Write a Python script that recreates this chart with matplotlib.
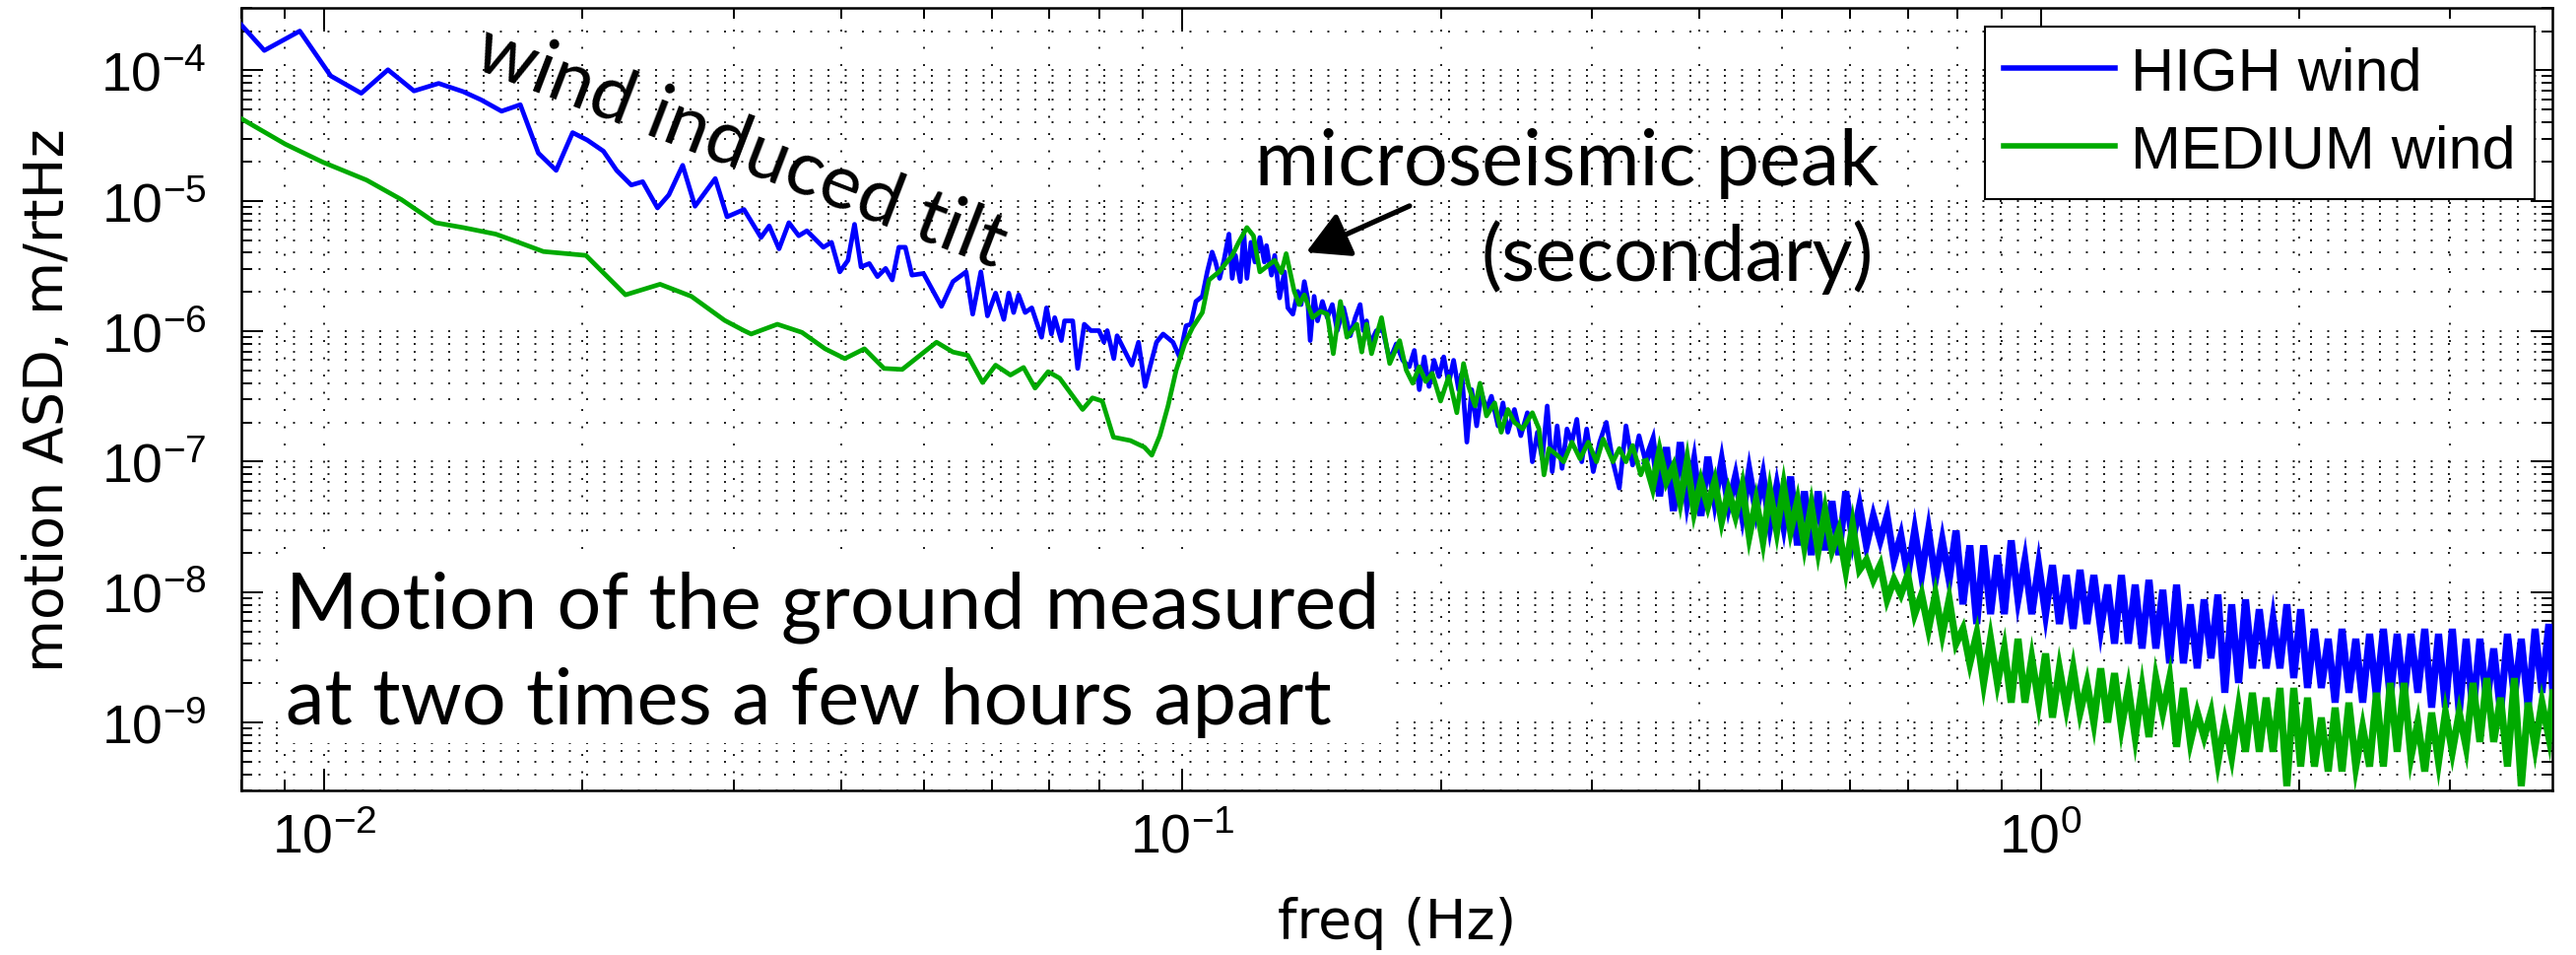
import matplotlib
matplotlib.use('Agg')
import matplotlib.pyplot as plt
from matplotlib.patches import Rectangle
from matplotlib.ticker import LogLocator, NullFormatter

# ---- HIGH wind, coarse part of the spectrum (Hz, m/rtHz) ----
f_high_lf = [0.008, 0.00852, 0.00937, 0.01018, 0.01105, 0.01187, 0.01273, 0.0136, 0.01452, 0.01524,
             0.0161, 0.01693, 0.01777, 0.01864, 0.01948, 0.02026, 0.02116, 0.02192, 0.0228, 0.02351,
             0.02446, 0.02522, 0.02617, 0.02705, 0.02856, 0.02948, 0.03085,
             0.03229, 0.03301, 0.03389, 0.0348, 0.03573, 0.03652, 0.03817, 0.03901, 0.03989, 0.04077,
             0.0415, 0.04223, 0.04318, 0.04413, 0.04511, 0.04592, 0.04674, 0.04756, 0.04841, 0.04993,
             0.0524, 0.05404, 0.05598, 0.05698, 0.05824, 0.05928, 0.06059, 0.06194, 0.06276, 0.06359,
             0.06444, 0.06559, 0.06676, 0.06855, 0.06946, 0.07038, 0.071, 0.07227, 0.0729, 0.07451,
             0.07551, 0.07686, 0.07823, 0.07996, 0.08103, 0.08174, 0.0832, 0.08393, 0.08733, 0.08889,
             0.09048, 0.09168, 0.09329, 0.09496, 0.09751, 0.09925, 0.101, 0.1023, 0.1037, 0.1055,
             0.1069, 0.1083, 0.1093, 0.1105, 0.1118, 0.1133, 0.1143, 0.1153, 0.1168, 0.1179,
             0.1189, 0.1202, 0.1215, 0.1231, 0.1246, 0.1253, 0.127, 0.1281, 0.1298, 0.1315,
             0.1327, 0.1345, 0.1363, 0.1375, 0.1387, 0.1399, 0.1409, 0.1424, 0.1437, 0.1456,
             0.1475, 0.1495, 0.1515, 0.1541, 0.1569, 0.159, 0.1611, 0.1625, 0.1639, 0.1654,
             0.1683, 0.1713, 0.1744, 0.1775, 0.1806, 0.1838, 0.1863, 0.1888, 0.1913, 0.1938,
             0.1964, 0.199, 0.2016, 0.2043, 0.207, 0.2098, 0.2116, 0.2145, 0.2173, 0.2202,
             0.2231, 0.2261, 0.2291, 0.2332, 0.2363, 0.2394, 0.2437, 0.2479, 0.2523, 0.2557,
             0.2592, 0.2626, 0.2661, 0.2697, 0.2733, 0.2769, 0.2806, 0.2843, 0.2881, 0.2919,
             0.2958, 0.3011, 0.3063, 0.3118, 0.3174, 0.3229, 0.3287, 0.3346, 0.3404, 0.3465]
asd_high_lf = [2.25e-4, 1.42e-4, 2.0e-4, 9.07e-5, 6.67e-5, 1.01e-4, 6.95e-5, 7.94e-5, 6.87e-5, 5.94e-5,
               4.86e-5, 5.45e-5, 2.32e-5, 1.71e-5, 3.33e-5, 2.92e-5, 2.40e-5, 1.71e-5, 1.32e-5, 1.40e-5,
               8.81e-6, 1.11e-5, 1.87e-5, 9.08e-6, 1.48e-5, 7.53e-6, 8.57e-6,
               5.23e-6, 6.41e-6, 4.28e-6, 6.79e-6, 5.39e-6, 5.88e-6, 4.40e-6, 4.80e-6, 2.85e-6, 3.49e-6,
               6.60e-6, 3.11e-6, 3.30e-6, 2.62e-6, 3.03e-6, 2.47e-6, 4.40e-6, 4.40e-6, 2.69e-6, 2.77e-6,
               1.55e-6, 2.40e-6, 2.85e-6, 1.35e-6, 2.85e-6, 1.31e-6, 1.96e-6, 1.23e-6, 1.96e-6, 1.39e-6,
               1.90e-6, 1.39e-6, 1.51e-6, 8.98e-7, 1.51e-6, 9.51e-7, 1.27e-6, 8.47e-7, 1.20e-6, 1.20e-6,
               5.18e-7, 1.13e-6, 1.01e-6, 1.01e-6, 8.23e-7, 1.01e-6, 6.16e-7, 9.23e-7, 5.49e-7, 8.23e-7,
               3.77e-7, 5.34e-7, 8.23e-7, 9.51e-7, 8.23e-7, 6.35e-7, 1.10e-6, 1.13e-6, 1.69e-6, 1.85e-6,
               2.85e-6, 4.04e-6, 3.39e-6, 2.54e-6, 3.49e-6, 5.55e-6, 2.54e-6, 3.81e-6, 2.40e-6, 5.71e-6,
               2.54e-6, 4.80e-6, 3.39e-6, 5.23e-6, 3.39e-6, 4.53e-6, 2.69e-6, 3.81e-6, 1.80e-6, 2.85e-6,
               1.51e-6, 1.35e-6, 2.02e-6, 1.60e-6, 2.40e-6, 1.80e-6, 8.47e-7, 1.85e-6, 1.20e-6, 1.69e-6,
               1.27e-6, 1.60e-6, 1.01e-6, 1.51e-6, 9.23e-7, 1.27e-6, 1.60e-6, 1.01e-6, 1.20e-6, 7.99e-7,
               1.01e-6, 1.01e-6, 5.98e-7, 7.99e-7, 5.98e-7, 5.34e-7, 7.12e-7, 3.56e-7, 6.35e-7, 3.77e-7,
               5.98e-7, 4.49e-7, 6.35e-7, 3.99e-7, 5.98e-7, 3.56e-7, 4.75e-7, 1.41e-7, 3.56e-7, 1.88e-7,
               3.36e-7, 2.51e-7, 3.17e-7, 1.88e-7, 2.82e-7, 1.68e-7, 2.51e-7, 1.58e-7, 2.37e-7, 9.97e-8,
               1.68e-7, 1.05e-7, 2.67e-7, 8.38e-8, 1.88e-7, 8.87e-8, 1.78e-7, 1.41e-7, 2.11e-7, 9.97e-8,
               1.78e-7, 8.38e-8, 1.41e-7, 2.00e-7, 9.97e-8, 6.27e-8, 1.88e-7, 9.41e-8, 1.58e-7, 9.97e-8]

# ---- MEDIUM wind, coarse part ----
f_med_lf = [0.008, 0.00901, 0.00996, 0.01121, 0.01231, 0.01348, 0.01452, 0.01585, 0.01685, 0.01801,
            0.02019, 0.02245, 0.02463, 0.02679, 0.02929, 0.03085,
            0.03145, 0.03374, 0.03604, 0.03835, 0.04043, 0.04262, 0.04492, 0.04716, 0.05171, 0.05404,
            0.05623, 0.05851, 0.06059, 0.06305, 0.06531, 0.06736, 0.06976, 0.07195, 0.07652, 0.07857,
            0.08067, 0.08311, 0.08698, 0.09031, 0.09212,
            0.09413, 0.09622, 0.09836, 0.1006, 0.1028, 0.1055, 0.1074, 0.1103, 0.1143, 0.1163,
            0.1189, 0.121, 0.1231, 0.1281, 0.1304, 0.1321, 0.135, 0.1368, 0.1387, 0.1418,
            0.1449, 0.1475, 0.1499, 0.1528, 0.1555, 0.1597, 0.1618, 0.1639, 0.1661, 0.1706,
            0.1744, 0.1791, 0.1823, 0.1855, 0.1888, 0.1921, 0.1955, 0.1999, 0.2043, 0.2088,
            0.2126, 0.2155, 0.2193, 0.2222, 0.2261, 0.2311, 0.2352, 0.2394, 0.2437, 0.2491,
            0.2557, 0.2603, 0.2638, 0.2673, 0.2733, 0.2781, 0.2843, 0.2906, 0.2971, 0.3037,
            0.3092, 0.3174, 0.3229, 0.3287, 0.3346, 0.342, 0.3465]
asd_med_lf = [4.28e-5, 2.72e-5, 1.98e-5, 1.44e-5, 1.02e-5, 6.79e-6, 6.23e-6, 5.55e-6, 4.80e-6, 4.08e-6,
              3.81e-6, 1.90e-6, 2.29e-6, 1.85e-6, 1.21e-6, 1.01e-6,
              9.51e-7, 1.13e-6, 9.79e-7, 7.33e-7, 6.16e-7, 7.33e-7, 5.18e-7, 5.09e-7, 8.23e-7, 6.92e-7,
              6.53e-7, 4.04e-7, 5.49e-7, 4.61e-7, 5.27e-7, 3.66e-7, 4.89e-7, 4.36e-7, 2.51e-7, 3.08e-7,
              2.91e-7, 1.54e-7, 1.45e-7, 1.29e-7, 1.12e-7,
              1.58e-7, 2.67e-7, 5.03e-7, 7.99e-7, 1.07e-6, 1.39e-6, 2.47e-6, 2.85e-6, 3.81e-6, 4.80e-6,
              6.23e-6, 5.39e-6, 2.85e-6, 3.49e-6, 2.81e-6, 3.93e-6, 2.02e-6, 1.60e-6, 1.90e-6, 1.27e-6,
              1.42e-6, 1.35e-6, 6.72e-7, 1.69e-6, 8.98e-7, 1.13e-6, 6.92e-7, 1.13e-6, 6.72e-7, 1.27e-6,
              5.65e-7, 8.47e-7, 5.03e-7, 3.99e-7, 5.34e-7, 4.11e-7, 4.75e-7, 2.91e-7, 4.49e-7, 2.37e-7,
              5.65e-7, 3.77e-7, 2.67e-7, 3.99e-7, 2.24e-7, 2.82e-7, 1.68e-7, 2.51e-7, 2.00e-7, 1.78e-7,
              2.37e-7, 1.78e-7, 7.91e-8, 1.26e-7, 1.12e-7, 9.97e-8, 1.41e-7, 1.05e-7, 1.41e-7, 9.97e-8,
              1.49e-7, 9.97e-8, 1.26e-7, 9.97e-8, 1.33e-7, 7.91e-8, 9.97e-8]

# ---- dense part of both spectra, common frequency axis ----
f_hf = [0.3531, 0.3597, 0.3664, 0.3733, 0.3802, 0.3873, 0.3946, 0.4019, 0.4094, 0.4171, 0.4249, 0.4328,
        0.4409, 0.4491, 0.4575, 0.4660, 0.4747, 0.4836, 0.4926, 0.5018, 0.5112, 0.5207, 0.5305, 0.5404,
        0.5504, 0.5607, 0.5712, 0.5818, 0.5927, 0.6038, 0.6150, 0.6265, 0.6382, 0.6501, 0.6622, 0.6746,
        0.6872, 0.7000, 0.7131, 0.7264, 0.7400, 0.7538, 0.7679, 0.7822, 0.7968, 0.8117, 0.8268, 0.8423,
        0.8580, 0.8740, 0.8903, 0.9069, 0.9238, 0.9409, 0.9585, 0.9763, 0.9946, 1.0131, 1.0320, 1.0513,
        1.0709, 1.0909, 1.1112, 1.1320, 1.1531, 1.1746, 1.1965, 1.2189, 1.2416, 1.2648, 1.2884, 1.3124,
        1.3369, 1.3619, 1.3873, 1.4132, 1.4396, 1.4664, 1.4938, 1.5217, 1.5501, 1.5790, 1.6085, 1.6385,
        1.6691, 1.7003, 1.7320, 1.7643, 1.7973, 1.8308, 1.8650, 1.8998, 1.9353, 1.9714, 2.0082, 2.0457,
        2.0839, 2.1228, 2.1624, 2.2028, 2.2439, 2.2858, 2.3284, 2.3719, 2.4162, 2.4613, 2.5072, 2.5540,
        2.6017, 2.6503, 2.6998, 2.7502, 2.8015, 2.8538, 2.9071, 2.9613, 3.0166, 3.0729, 3.1303, 3.1887,
        3.2482, 3.3089, 3.3706, 3.4336, 3.4977, 3.5630, 3.6295, 3.6972, 3.7662, 3.8365, 3.9081, 3.95]
asd_high_hf = [1.41e-7, 5.43e-8, 1.29e-7, 4.18e-8, 1.41e-7, 4.98e-8, 9.97e-8, 3.84e-8, 1.09e-7, 4.98e-8, 9.97e-8, 4.56e-8,
               7.68e-8, 3.84e-8, 8.38e-8, 4.18e-8, 7.68e-8, 3.23e-8, 6.46e-8, 3.23e-8, 7.68e-8, 2.28e-8, 5.92e-8, 1.92e-8,
               5.92e-8, 2.09e-8, 4.98e-8, 1.92e-8, 5.92e-8, 2.49e-8, 4.56e-8, 2.28e-8, 3.84e-8, 2.49e-8, 3.84e-8, 1.76e-8,
               2.71e-8, 1.35e-8, 2.96e-8, 1.35e-8, 2.96e-8, 1.24e-8, 2.49e-8, 1.24e-8, 2.96e-8, 8.05e-9, 2.28e-8, 5.69e-9,
               2.28e-8, 6.77e-9, 1.92e-8, 6.77e-9, 2.49e-8, 8.78e-9, 1.76e-8, 6.77e-9, 1.61e-8, 6.77e-9, 1.61e-8, 5.69e-9,
               1.35e-8, 5.22e-9, 1.48e-8, 5.69e-9, 1.35e-8, 5.22e-9, 1.14e-8, 4.02e-9, 1.35e-8, 4.02e-9, 1.14e-8, 3.69e-9,
               1.24e-8, 3.69e-9, 1.04e-8, 2.84e-9, 1.14e-8, 2.84e-9, 8.05e-9, 2.60e-9, 8.78e-9, 3.10e-9, 9.57e-9, 1.69e-9,
               8.05e-9, 2.01e-9, 8.78e-9, 2.60e-9, 7.38e-9, 2.60e-9, 6.20e-9, 2.60e-9, 8.05e-9, 2.19e-9, 7.38e-9, 1.84e-9,
               5.22e-9, 1.84e-9, 4.38e-9, 1.42e-9, 5.22e-9, 1.69e-9, 4.38e-9, 1.42e-9, 4.78e-9, 1.55e-9, 5.22e-9, 1.55e-9,
               4.78e-9, 1.55e-9, 4.78e-9, 1.69e-9, 5.22e-9, 1.30e-9, 4.78e-9, 1.30e-9, 5.22e-9, 1.19e-9, 4.38e-9, 1.19e-9,
               4.38e-9, 1.42e-9, 3.69e-9, 1.19e-9, 4.78e-9, 1.55e-9, 4.38e-9, 1.30e-9, 5.22e-9, 1.69e-9, 5.69e-9, 1.69e-9]
asd_med_hf = [6.46e-8, 1.19e-7, 7.04e-8, 9.14e-8, 4.98e-8, 9.97e-8, 4.18e-8, 7.04e-8, 4.56e-8, 7.04e-8, 3.52e-8, 5.92e-8,
              3.84e-8, 6.46e-8, 2.71e-8, 4.98e-8, 2.49e-8, 5.92e-8, 2.96e-8, 6.46e-8, 2.96e-8, 4.98e-8, 2.28e-8, 4.56e-8,
              2.09e-8, 4.18e-8, 2.09e-8, 2.96e-8, 1.48e-8, 3.23e-8, 1.48e-8, 1.76e-8, 1.24e-8, 1.61e-8, 8.78e-9, 1.24e-8,
              9.57e-9, 1.35e-8, 6.77e-9, 9.57e-9, 5.22e-9, 9.57e-9, 4.78e-9, 8.78e-9, 4.02e-9, 5.22e-9, 2.84e-9, 4.78e-9,
              2.01e-9, 4.38e-9, 2.01e-9, 3.69e-9, 1.42e-9, 4.38e-9, 1.42e-9, 3.10e-9, 1.42e-9, 3.38e-9, 1.09e-9, 2.60e-9,
              1.30e-9, 2.60e-9, 1.19e-9, 2.01e-9, 1.00e-9, 2.60e-9, 1.00e-9, 2.39e-9, 9.19e-10, 1.84e-9, 7.73e-10, 1.84e-9,
              7.73e-10, 2.19e-9, 1.19e-9, 2.19e-9, 6.50e-10, 1.84e-9, 7.09e-10, 1.19e-9, 7.73e-10, 1.19e-9, 5.01e-10, 1.00e-9,
              5.46e-10, 1.30e-9, 5.96e-10, 1.69e-9, 5.96e-10, 1.55e-9, 5.96e-10, 1.84e-9, 3.25e-10, 1.84e-9, 4.59e-10, 1.55e-9,
              4.59e-10, 1.09e-9, 4.21e-10, 1.30e-9, 4.21e-10, 1.42e-9, 4.59e-10, 9.19e-10, 4.59e-10, 1.69e-9, 4.59e-10, 2.01e-9,
              5.96e-10, 2.01e-9, 5.46e-10, 1.00e-9, 4.21e-10, 1.19e-9, 5.01e-10, 1.19e-9, 5.96e-10, 1.19e-9, 6.50e-10, 2.01e-9,
              7.09e-10, 2.19e-9, 7.09e-10, 1.55e-9, 4.59e-10, 2.19e-9, 3.25e-10, 1.42e-9, 6.50e-10, 1.42e-9, 7.73e-10, 1.69e-9]

series_labels = ['HIGH wind', 'MEDIUM wind']
series_colors = ['#0000ff', '#00aa00']

plt.rcParams['font.family'] = ['Liberation Sans', 'DejaVu Sans']
plt.rcParams['mathtext.fontset'] = 'custom'
plt.rcParams['mathtext.rm'] = 'Liberation Sans'
plt.rcParams['mathtext.it'] = 'Liberation Sans:italic'
plt.rcParams['mathtext.bf'] = 'Liberation Sans:bold'
plt.rcParams['lines.scale_dashes'] = False

note_font = ['Lato', 'DejaVu Sans']
label_font = ['DejaVu Sans']

fig = plt.figure(figsize=(26.15, 9.70), dpi=100)
ax = fig.add_axes([0.0935, 0.1719, 0.8975, 0.8186])

# coarse part drawn thinner, the densely sampled tail with a heavier stroke so
# that the noise fills in as a band
series = [(f_high_lf, asd_high_lf, asd_high_hf), (f_med_lf, asd_med_lf, asd_med_hf)]
for i, (f_lf, a_lf, a_hf) in enumerate(series):
    ax.plot(f_lf, a_lf, color=series_colors[i], lw=3.4, label=series_labels[i],
            zorder=3 + i, solid_joinstyle='round')
    ax.plot([f_lf[-1]] + f_hf, [a_lf[-1]] + a_hf, color=series_colors[i], lw=5.2,
            zorder=3 + i, solid_joinstyle='miter')

ax.set_xscale('log')
ax.set_yscale('log')
ax.set_xlim(0.008, 3.95)
ax.set_ylim(3e-10, 3e-4)

for axis in (ax.xaxis, ax.yaxis):
    axis.set_major_locator(LogLocator(base=10, numticks=30))
    axis.set_minor_locator(LogLocator(base=10, subs=range(2, 10), numticks=30))
    axis.set_minor_formatter(NullFormatter())

# dotted MATLAB-like grid on every decade and sub-decade
ax.grid(True, which='both', color='0.1', lw=1.4, ls=(0, (1.4, 11.2)))
ax.tick_params(which='both', direction='in', top=True, right=True, width=1.4, labelsize=40)
ax.tick_params(which='major', length=16)
ax.tick_params(which='minor', length=8)
ax.tick_params(axis='y', pad=25)
ax.tick_params(axis='x', pad=16)
for sp in ax.spines.values():
    sp.set_linewidth(1.8)

ax.set_ylabel('motion ASD, m/rtHz', fontsize=40, family=label_font)
ax.yaxis.set_label_coords(-0.0718, 0.5)
ax.set_xlabel('freq (Hz)', fontsize=40, family=label_font)
ax.xaxis.set_label_coords(0.5, -0.135)

leg = ax.legend(loc='upper right', bbox_to_anchor=(0.9921, 0.9765), borderaxespad=0,
                fontsize=44, handlelength=1.85, handletextpad=0.25, labelspacing=0.36,
                borderpad=0.32, fancybox=False, edgecolor='k', framealpha=1)
leg.get_frame().set_linewidth(1.5)
for h in leg.get_lines():
    h.set_linewidth(4)

# annotations
ax.text(0.2162, 0.8228, 'wind induced tilt', rotation=-21, rotation_mode='anchor',
        ha='center', va='center', fontsize=56, family=note_font, transform=ax.transAxes)
ax.text(0.7086, 0.7749, 'microseismic peak', ha='right', va='baseline', fontsize=57,
        family=note_font, transform=ax.transAxes)
ax.text(0.7060, 0.6528, '(secondary)', ha='right', va='baseline', fontsize=57,
        family=note_font, transform=ax.transAxes)
ax.annotate('', xy=(0.4608, 0.6880), xytext=(0.5055, 0.7472), xycoords='axes fraction',
            arrowprops=dict(arrowstyle='-|>,head_length=0.4,head_width=0.22', mutation_scale=66,
                            lw=3.8, color='k', shrinkA=0, shrinkB=0))

ax.add_patch(Rectangle((0.016, 0.0608), 0.4815, 0.2456, transform=ax.transAxes,
                       facecolor='white', edgecolor='none', zorder=2.2))
ax.text(0.0194, 0.2094, 'Motion of the ground measured', ha='left', va='baseline',
        fontsize=57, family=note_font, transform=ax.transAxes, zorder=2.3)
ax.text(0.0194, 0.0860, 'at two times a few hours apart', ha='left', va='baseline',
        fontsize=57, family=note_font, transform=ax.transAxes, zorder=2.3)

fig.savefig('out.png', dpi=100, facecolor='white')
